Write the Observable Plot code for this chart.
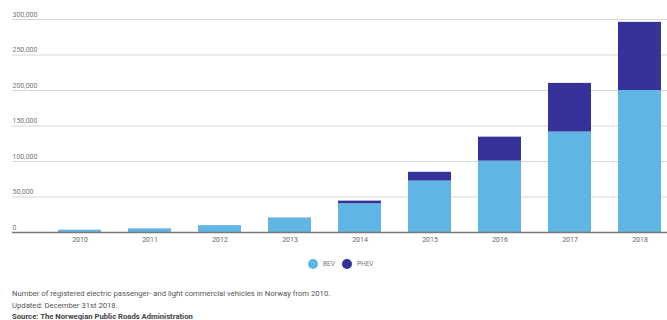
<!DOCTYPE html>
<html>
<head>
<meta charset="utf-8">
<script src="https://cdn.jsdelivr.net/npm/d3@7"></script>
<script src="https://cdn.jsdelivr.net/npm/@observablehq/plot@0.6"></script>
<style>
  html, body { margin: 0; padding: 0; background: #fff; }
  body { width: 667px; height: 320px; overflow: hidden; font-family: Roboto, "Noto Sans", sans-serif; }
  #wrap { position: relative; width: 667px; height: 320px; }
  #chart svg { display: block; }
  .leg { position: absolute; top: 259px; left: 308px; font-size: 6.5px; color: #777; display: flex; align-items: center; }
  .dot { display: inline-block; width: 10px; height: 10px; border-radius: 50%; margin-right: 5px; }
  .cap { position: absolute; left: 12px; font-size: 7.7px; color: #555; white-space: nowrap; }
</style>
</head>
<body>
<div id="wrap">
  <div id="chart"></div>
  <div class="leg">
    <span class="dot" style="background:#5fb6e4"></span><span style="margin-right:7px">BEV</span>
    <span class="dot" style="background:#35339a"></span><span>PHEV</span>
  </div>
  <div class="cap" style="top:289px">Number of registered electric passenger- and light commercial vehicles in Norway from 2010.</div>
  <div class="cap" style="top:300.5px">Updated: December 31st 2018.</div>
  <div class="cap" style="top:312px;font-weight:bold;color:#444">Source: The Norwegian Public Roads Administration</div>
</div>
<script>
const years = ["2010","2011","2012","2013","2014","2015","2016","2017","2018"];
const bev  = [3300, 5000, 9500, 20000, 40500, 72500, 100500, 141500, 200000];
const phev = [0, 100, 100, 300, 3700, 12300, 33800, 68500, 96000];
const seriesNames = ["BEV", "PHEV"];
const seriesColors = ["#5fb6e4", "#35339a"];
const yTicks = [0, 50000, 100000, 150000, 200000, 250000, 300000];

const rows = [];
years.forEach((y, i) => {
  rows.push({year: y, series: "BEV", value: bev[i]});
  rows.push({year: y, series: "PHEV", value: phev[i]});
});

const fmt = d3.format(",");

const chart = Plot.plot({
  width: 667,
  height: 250,
  marginTop: 19,
  marginBottom: 18,
  marginLeft: 12,
  marginRight: 0,
  style: {fontFamily: "Roboto, sans-serif", background: "#fff"},
  x: {domain: years, range: [41.6, 678.3], paddingInner: 0.38, paddingOuter: 0.19, label: null},
  y: {domain: [0, 300000], axis: null},
  color: {domain: seriesNames, range: seriesColors},
  marks: [
    Plot.ruleY(yTicks.slice(1), {stroke: "#d6d6d6", strokeWidth: 1.2}),
    Plot.text(yTicks, {y: d => d, text: d => fmt(d), frameAnchor: "left", textAnchor: "start", dy: -5, fontSize: 7, fill: "#777"}),
    Plot.barY(rows, Plot.stackY({order: seriesNames, x: "year", y: "value", fill: "series"})),
    Plot.ruleY([0], {stroke: "#7a7a7a", strokeWidth: 1.5}),
    Plot.axisX({tickSize: 0, tickPadding: 4.5, fontSize: 7, fill: "#666", label: null})
  ]
});
document.getElementById("chart").appendChild(chart);
</script>
</body>
</html>
